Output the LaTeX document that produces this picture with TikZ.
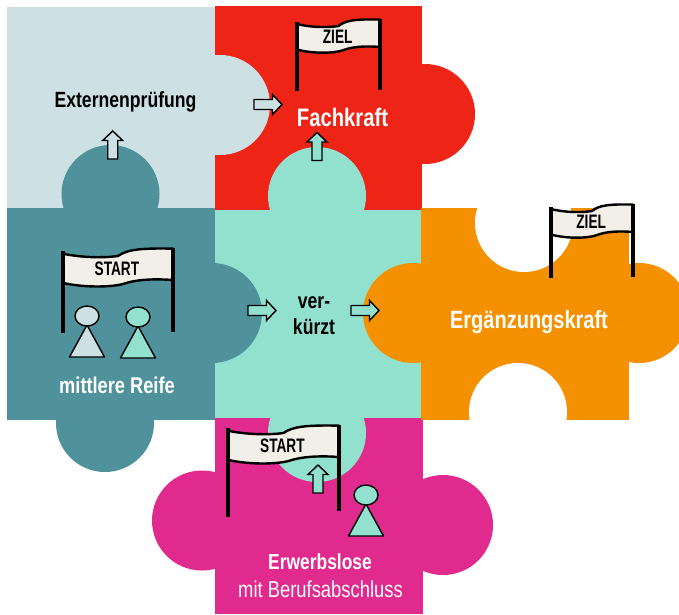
\documentclass[tikz,border=0pt]{standalone}
\usepackage{fontspec}
\setmainfont{Liberation Sans}[FakeStretch=0.8]
\newfontfamily\flagfont{Liberation Sans}[FakeStretch=0.7]
\definecolor{cLight}{HTML}{CDE1E4}
\definecolor{cRed}{HTML}{EE2417}
\definecolor{cTeal}{HTML}{50929B}
\definecolor{cMint}{HTML}{92E1CF}
\definecolor{cOrange}{HTML}{F59100}
\definecolor{cPink}{HTML}{E12A8D}
\definecolor{cFlag}{HTML}{F2EFE9}
\tikzset{
  piece/.style={fill=#1,draw=none},
  label/.style={inner sep=0pt,align=center,font=\bfseries\fontsize{#1}{#1}\selectfont},
  flaglabel/.style={inner sep=0pt,text=black,font=\flagfont\bfseries\fontsize{19.5}{19.5}\selectfont},
  pole/.style={line width=4.8pt,draw=black},
  banner/.style={fill=cFlag,draw=black,line width=2.4pt,line join=round},
  barrow/.style={fill=#1,draw=black,line width=1.4pt,miter limit=6},
  pawn/.style={fill=#1,draw=black,line width=1.4pt,line join=round}
}
% x, y, w, h, left pole end, right pole end, text, name
\newcommand{\flagbanner}[8]{
  \begin{scope}[shift={(#1,#2)},x=#3pt,y=-#4pt]
    \path[banner] (0,.18) .. controls (.2,.32) and (.4,.3) .. (.5,.25) .. controls (.58,.05) and (.7,0) .. (1,.02)
      -- (1,1) .. controls (.8,.95) and (.65,1) .. (.55,1.12) .. controls (.45,1.22) and (.2,1.25) .. (0,1.09) -- cycle;
  \end{scope}
  \draw[pole] (#1,#2+.1*#4) -- (#1,#5);
  \draw[pole] (#1+#3,#2) -- (#1+#3,#6);
  \node[flaglabel] (#8) at (#1+.49*#3,#2+.64*#4) {#7};
}
% tail x, tail y, rotation, fill
\newcommand{\blockarrow}[4]{
  \path[barrow=#4,shift={(#1,#2)},rotate=#3] (0,-5) -- (18.5,-5) -- (18.5,-10) -- (28,0) -- (18.5,10) -- (18.5,5) -- (0,5) -- cycle;
}
% head x, head y, fill
\newcommand{\pawnfig}[3]{
  \path[pawn=#3] (#1,#2+9) -- (#1+17.5,#2+41) -- (#1-17.5,#2+41) -- cycle;
  \path[pawn=#3] (#1,#2) ellipse [x radius=12, y radius=10];
}
\begin{document}
\begin{tikzpicture}[x=1pt,y=-1pt]
\useasboundingbox (0,0) rectangle (679,614);
\fill[white] (0,0) rectangle (679,614);
\path[piece=cRed] (215,6) rectangle (422,210);
\path[piece=cRed] (425,114) circle (50);
\path[piece=cLight] (7,7) rectangle (215,208);
\begin{scope}
  \clip (215,0) rectangle (300,210);
  \path[piece=cLight] (220,105) circle (50);
\end{scope}
\path[piece=cPink] (215,418) rectangle (423,614);
\path[piece=cPink] (202,520.5) circle (50);
\path[piece=cPink] (443,525) circle (50);
\path[piece=cMint] (215,210) rectangle (422,418);
\path[piece=cMint] (317,196) circle (49);
\path[piece=cMint] (317,433) circle (49);
\path[piece=cTeal] (7,208) rectangle (215,420);
\path[piece=cTeal] (110.5,194) circle (49);
\path[piece=cTeal] (212,313) circle (50);
\path[piece=cTeal] (105,423) circle (49);
\begin{scope}
  \clip (0,0) rectangle (679,614);
  \path[piece=cOrange] (421,208) rectangle (629,420);
  \path[piece=cOrange] (413,313) circle (50);
  \path[piece=cOrange] (639,313) circle (50);
  \begin{scope}
    \clip (421,208) rectangle (640,420);
    \fill[white] (524,223) circle (49);
    \fill[white] (518,412) circle (49);
  \end{scope}
\end{scope}
% Flags
\flagbanner{297}{19}{83}{28}{91}{90}{ZIEL}{zielA}
\flagbanner{551}{204}{82}{28}{278}{277}{ZIEL}{zielB}
\flagbanner{63}{248}{110}{32}{333}{332}{START}{startA}
\flagbanner{228}{425}{111}{32}{517}{511}{START}{startB}
% Figures
\pawnfig{87}{316}{cLight}
\pawnfig{138}{317}{cMint}
\pawnfig{366}{495}{cMint}
% Arrows
\blockarrow{254}{104.5}{0}{cLight}
\blockarrow{112.7}{159}{90}{cLight}
\blockarrow{317}{160.5}{90}{cMint}
\blockarrow{248}{310.5}{0}{cMint}
\blockarrow{351}{310.5}{0}{cMint}
\blockarrow{318}{493}{90}{cMint}
% Labels
\node[label=22,text=black] (extern) at (125.5,102) {Externenprüfung};
\node[label=25.3,text=white] (fach) at (342.5,117) {Fachkraft};
\node[label=22,text=black] (ver) at (314,303) {ver-};
\node[label=22,text=black] (kuerzt) at (314,327) {kürzt};
\node[label=22.8,text=white] (reife) at (117,385) {mittlere Reife};
\node[label=25,text=white] (ergaenz) at (529,322) {Ergänzungskraft};
\node[label=21.8,text=white] (erwerb) at (320,562) {Erwerbslose};
\node[inner sep=0pt,text=white,font=\fontsize{23}{23}\selectfont] (beruf) at (320.5,589) {mit Berufsabschluss};
\end{tikzpicture}
\end{document}
